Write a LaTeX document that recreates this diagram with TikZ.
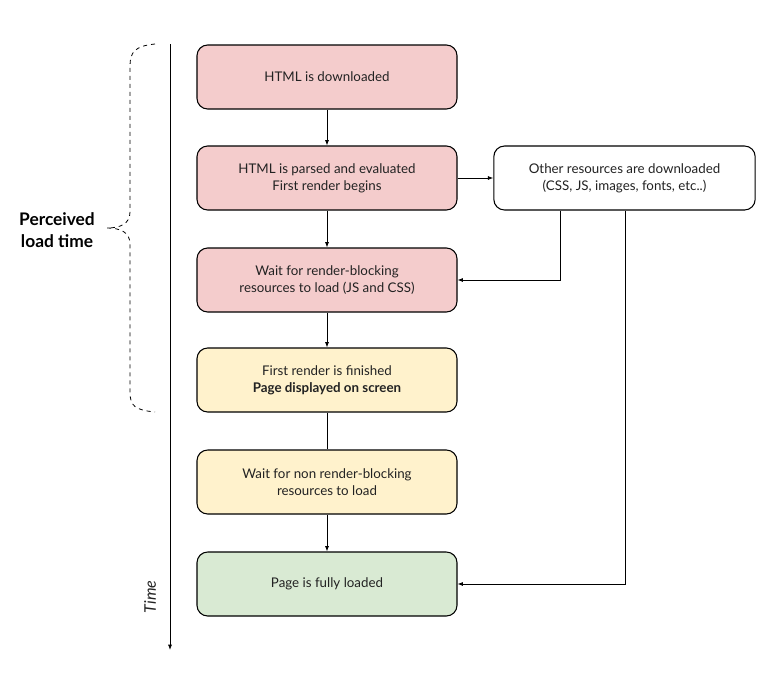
\documentclass[tikz,border=0pt]{standalone}
\usepackage{fontspec}
\setmainfont{Lato}
\usetikzlibrary{arrows.meta,positioning,calc}
\definecolor{loadPink}{HTML}{F4CCCC}
\definecolor{loadYellow}{HTML}{FFF2CC}
\definecolor{loadGreen}{HTML}{D9EAD3}
\definecolor{loadInk}{HTML}{222222}

\begin{document}
\begin{tikzpicture}[x=0.75pt,y=-0.75pt,>={Latex[length=4pt,width=3pt]}]
\tikzstyle{step box}=[draw=black,line width=.8pt,rounded corners=8pt,minimum width=195pt,minimum height=48pt,align=center,font=\fontsize{10}{13}\selectfont,text=loadInk]
\tikzstyle{link}=[->,draw=black,line width=.6pt]
\useasboundingbox (0,0) rectangle (780,675);
\node[step box,fill=loadPink] (html) at (327,77) {HTML is downloaded};
\node[step box,fill=loadPink,minimum height=48pt] (parse) at (327,178) {HTML is parsed and evaluated\\First render begins};
\node[step box,fill=loadPink] (block) at (327,280) {Wait for render-blocking\\resources to load (JS and CSS)};
\node[step box,fill=loadYellow] (shown) at (327,380) {First render is finished\\\textbf{Page displayed on screen}};
\node[step box,fill=loadYellow] (nonblock) at (327,482) {Wait for non render-blocking\\resources to load};
\node[step box,fill=loadGreen] (done) at (327,584) {Page is fully loaded};
\node[step box,fill=white,minimum width=196pt] (other) at (624.5,178) {Other resources are downloaded\\(CSS, JS, images, fonts, etc..)};
% main flow
\draw[link] (html) -- (parse);
\draw[link] (parse) -- (block);
\draw[link] (block) -- (shown);
\draw[line width=.6pt] (shown) -- (nonblock);
\draw[link] (nonblock) -- (done);
\draw[link] (parse) -- (other);
% side resources
\draw[link] (other.south -| 560,0) |- (block.east);
\draw[link] (other.south -| 625,0) |- (done.east);
% time axis
\coordinate (t0) at (170,44);
\coordinate (t1) at (170,650);
\draw[link] (t0) -- (t1);
\node[rotate=90,font=\fontsize{12}{14}\selectfont\itshape,text=loadInk] (time) at (150,597) {Time};
% brace
\draw[dashed,line width=.6pt] (155,44) .. controls (135,46) and (130,52) .. (130,66) -- (130,212)
  .. controls (130,224) and (120,228) .. (107,228) .. controls (120,228) and (130,232) .. (130,244)
  -- (130,392) .. controls (130,406) and (135,410) .. (155,412);
\node[font=\fontsize{13}{16}\selectfont\bfseries,align=center] (perceived) at (57,230) {Perceived\\load time};
\end{tikzpicture}
\end{document}
